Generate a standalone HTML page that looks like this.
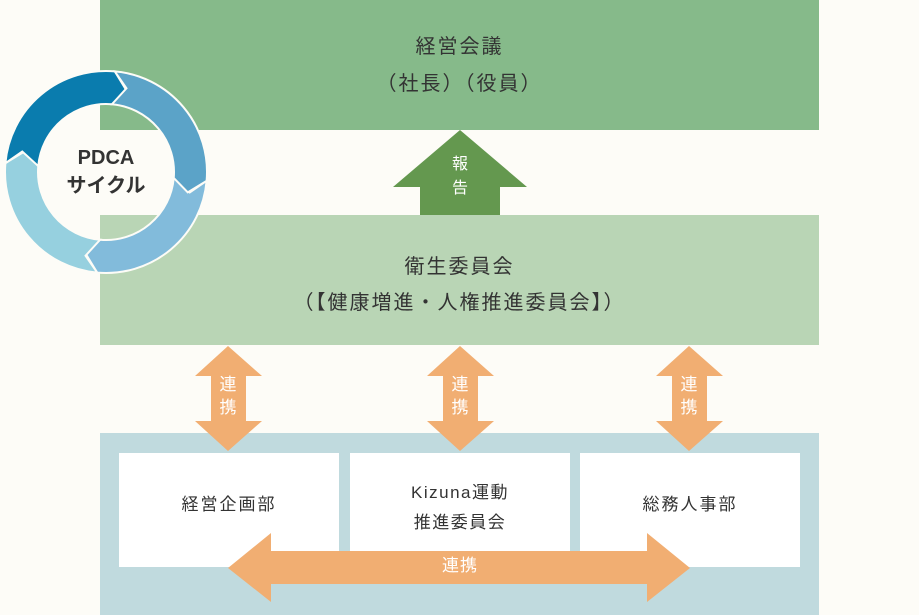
<!DOCTYPE html>
<html><head><meta charset="utf-8"><style>
body{margin:0;width:919px;height:615px;background:#fdfcf7;position:relative;overflow:hidden;font-family:"Liberation Sans","Noto Sans CJK JP",sans-serif;color:#333}
.a{position:absolute}
.t{position:absolute;text-align:center;white-space:nowrap}
</style></head><body>
<div class="a" style="left:100px;top:0;width:719px;height:130px;background:#86ba8a"></div>
<div class="a" style="left:100px;top:215px;width:719px;height:130px;background:#b9d5b5"></div>
<div class="a" style="left:100px;top:433px;width:719px;height:182px;background:#c0dade"></div>
<div class="a" style="left:119px;top:453px;width:220px;height:114px;background:#fff"></div>
<div class="a" style="left:350px;top:453px;width:220px;height:114px;background:#fff"></div>
<div class="a" style="left:580px;top:453px;width:220px;height:114px;background:#fff"></div>
<svg class="a" style="left:0;top:0" width="919" height="615">
<polygon points="460,130 527,187 500,187 500,215 420,215 420,187 393,187" fill="#64984f"/>
<g fill="#f1ae72">
<polygon points="228,346 262,376 246,376 246,421 262,421 228,451 195,421 211,421 211,376 195,376"/>
<polygon points="460,346 494,376 478,376 478,421 494,421 460,451 427,421 443,421 443,376 427,376"/>
<polygon points="689,346 723,376 707,376 707,421 723,421 689,451 656,421 672,421 672,376 656,376"/>
<polygon points="228,568 271,533 271,551 647,551 647,533 690,568 647,602 647,584 271,584 271,602"/>
</g>
<g stroke="#fdfcf7" stroke-width="2" stroke-linejoin="miter">
<path d="M207 172 A101 101 0 0 1 106 273 L92.9 255.2 L106 240 A68 68 0 0 0 174 172 L191.2 185.1 Z" fill="#82bbdb" transform="rotate(5 106 172)"/>
<path d="M207 172 A101 101 0 0 1 106 273 L92.9 255.2 L106 240 A68 68 0 0 0 174 172 L191.2 185.1 Z" fill="#96d0df" transform="rotate(95 106 172)"/>
<path d="M207 172 A101 101 0 0 1 106 273 L92.9 255.2 L106 240 A68 68 0 0 0 174 172 L191.2 185.1 Z" fill="#0a7cae" transform="rotate(185 106 172)"/>
<path d="M207 172 A101 101 0 0 1 106 273 L92.9 255.2 L106 240 A68 68 0 0 0 174 172 L191.2 185.1 Z" fill="#5ba3c8" transform="rotate(275 106 172)"/>
</g>
</svg>
<div class="t" style="left:6px;width:200px;top:144px;font-size:20px;font-weight:bold;line-height:28px">PDCA<br>サイクル</div>
<div class="t" style="left:100px;width:719px;top:29px;font-size:20px;line-height:37px;letter-spacing:2px">経営会議<br>（社長）（役員）</div>
<div class="t" style="left:100px;width:719px;top:249px;font-size:20px;line-height:36px;letter-spacing:2px">衛生委員会<br>（【健康増進・人権推進委員会】）</div>
<div class="t" style="left:440px;width:40px;top:153px;font-size:16px;line-height:24px;color:#fff">報<br>告</div>
<div class="t" style="left:208px;width:40px;top:373px;font-size:17px;line-height:23px;color:#fff">連<br>携</div>
<div class="t" style="left:440px;width:40px;top:373px;font-size:17px;line-height:23px;color:#fff">連<br>携</div>
<div class="t" style="left:669px;width:40px;top:373px;font-size:17px;line-height:23px;color:#fff">連<br>携</div>
<div class="t" style="left:400px;width:120px;top:555px;font-size:17px;line-height:22px;color:#fff;letter-spacing:1px">連携</div>
<div class="t" style="left:119px;width:220px;top:494px;font-size:17px;line-height:22px;letter-spacing:2px">経営企画部</div>
<div class="t" style="left:350px;width:220px;top:478px;font-size:17px;line-height:30px;letter-spacing:1.5px">Kizuna運動<br>推進委員会</div>
<div class="t" style="left:580px;width:220px;top:494px;font-size:17px;line-height:22px;letter-spacing:2px">総務人事部</div>
</body></html>
